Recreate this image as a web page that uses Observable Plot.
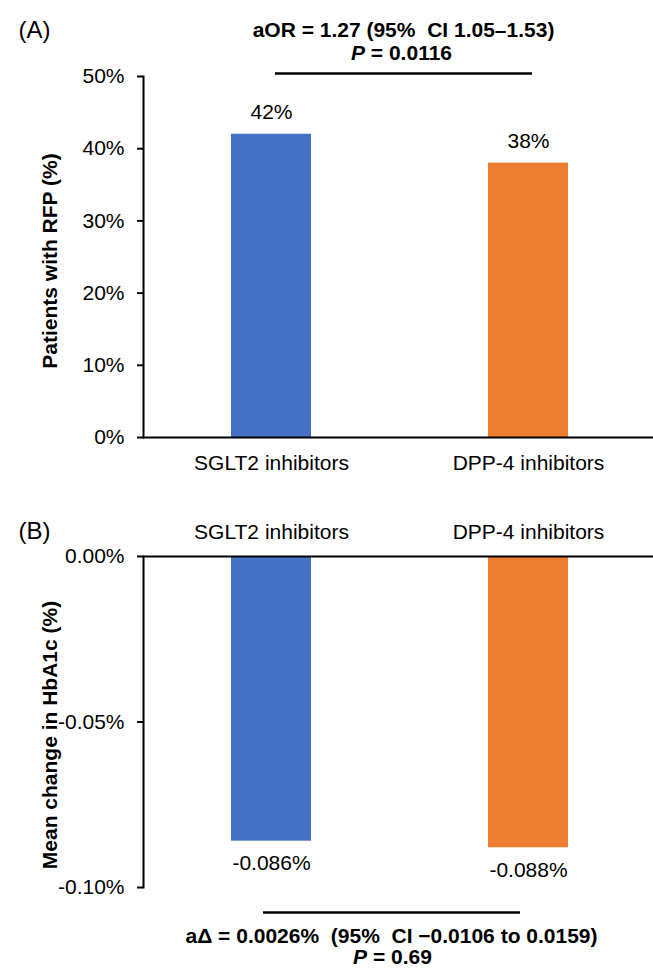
<!DOCTYPE html>
<html>
<head>
<meta charset="utf-8">
<script src="https://cdn.jsdelivr.net/npm/d3@7"></script>
<script src="https://cdn.jsdelivr.net/npm/@observablehq/plot@0.6"></script>
<style>
  body { margin: 0; background: #fff; }
  #chart { width: 653px; height: 969px; position: relative; }
  #chart svg { display: block; }
  #chart svg text { white-space: pre; }
</style>
</head>
<body>
<div id="chart"></div>
<script>
// ---- data ----
const categories = ["SGLT2 inhibitors", "DPP-4 inhibitors"];
const barColors = ["#4472C4", "#ED7D31"];
const rfpPercent = [42, 38];
const hba1cChange = [-0.086, -0.088];
const ticksA = [0, 10, 20, 30, 40, 50];
const ticksB = [0, -0.05, -0.10];
const panelLabels = ["(A)", "(B)"];
const yTitleA = "Patients with RFP (%)";
const yTitleB = "Mean change in HbA1c (%)";
const annotA = ["aOR = 1.27 (95%  CI 1.05\u20131.53)", "P = 0.0116"];
const annotB = ["a\u0394 = 0.0026%  (95%  CI \u22120.0106 to 0.0159)", "P = 0.69"];

const dataA = categories.map((c, i) => ({cat: c, value: rfpPercent[i]}));
const dataB = categories.map((c, i) => ({cat: c, value: hba1cChange[i]}));

const font = "'Liberation Sans', Arial, Helvetica, sans-serif";
const xScale = {domain: categories, paddingInner: 0.689, paddingOuter: 0.336, align: 0.51, label: null};
const colorScale = {domain: categories, range: barColors};

const plotA = Plot.plot({
  width: 653, height: 490,
  marginLeft: 143, marginRight: 0, marginTop: 76, marginBottom: 53,
  style: {fontFamily: font, fontSize: "21px", color: "#000", background: "#fff"},
  x: xScale,
  y: {domain: [0, 50], label: null},
  color: colorScale,
  marks: [
    Plot.barY(dataA, {x: "cat", y: "value", fill: "cat"}),
    Plot.axisY({ticks: ticksA, tickFormat: d => d + "%", tickSize: 6, tickPadding: 13, strokeWidth: 2, fontSize: 21}),
    Plot.axisX({tickSize: 0, tickPadding: 18, fontSize: 21}),
    Plot.ruleY([0], {strokeWidth: 2}),
    Plot.frame({anchor: "left", strokeWidth: 2}),
    Plot.text(dataA, {x: "cat", y: "value", text: d => d.value + "%", dy: -22, fontSize: 21}),
    Plot.ruleY([50], {dy: -3, insetLeft: 132, insetRight: 121, strokeWidth: 2.5}),
    Plot.text([annotA[0]], {frameAnchor: "top", lineAnchor: "middle", textAnchor: "middle", dy: -46, dx: 5, fontWeight: "bold", fontSize: 21}),
    Plot.text([annotA[1]], {frameAnchor: "top", lineAnchor: "middle", textAnchor: "middle", dy: -23, dx: 3, fontWeight: "bold", fontSize: 21}),
    Plot.text([panelLabels[0]], {frameAnchor: "top-left", lineAnchor: "middle", textAnchor: "start", dx: -125, dy: -46, fontSize: 24}),
    Plot.text([yTitleA], {frameAnchor: "left", lineAnchor: "middle", textAnchor: "middle", rotate: -90, dx: -93, dy: 4, fontWeight: "bold", fontSize: 21})
  ]
});

const plotB = Plot.plot({
  width: 653, height: 479,
  marginLeft: 143, marginRight: 0, marginTop: 66, marginBottom: 82,
  style: {fontFamily: font, fontSize: "21px", color: "#000", background: "#fff"},
  x: xScale,
  y: {domain: [-0.10, 0], label: null},
  color: colorScale,
  marks: [
    Plot.barY(dataB, {x: "cat", y: "value", fill: "cat"}),
    Plot.axisY({ticks: ticksB, tickFormat: d => d.toFixed(2) + "%", tickSize: 6, tickPadding: 13, strokeWidth: 2, fontSize: 21}),
    Plot.axisX({anchor: "top", tickSize: 0, tickPadding: 18, fontSize: 21}),
    Plot.ruleY([0], {strokeWidth: 2}),
    Plot.frame({anchor: "left", strokeWidth: 2}),
    Plot.text(dataB, {x: "cat", y: "value", text: d => d.value.toFixed(3) + "%", dy: 22, fontSize: 21}),
    Plot.ruleY([-0.10], {dy: 25, insetLeft: 120, insetRight: 133, strokeWidth: 2.5}),
    Plot.text([annotB[0]], {frameAnchor: "bottom", lineAnchor: "middle", textAnchor: "middle", dy: 49, dx: -7, fontWeight: "bold", fontSize: 21}),
    Plot.text([annotB[1]], {frameAnchor: "bottom", lineAnchor: "middle", textAnchor: "middle", dy: 70, dx: -6, fontWeight: "bold", fontSize: 21}),
    Plot.text([panelLabels[1]], {frameAnchor: "top-left", lineAnchor: "middle", textAnchor: "start", dx: -125, dy: -25, fontSize: 24}),
    Plot.text([yTitleB], {frameAnchor: "left", lineAnchor: "middle", textAnchor: "middle", rotate: -90, dx: -93, dy: 13, fontWeight: "bold", fontSize: 21})
  ]
});

const chart = document.getElementById("chart");
chart.appendChild(plotA);
chart.appendChild(plotB);

// italic "P" in the significance lines
d3.selectAll("#chart svg text").each(function () {
  const t = this.textContent;
  if (/^P = /.test(t) && this.children.length === 0) {
    const rest = t.slice(1);
    const sel = d3.select(this);
    sel.text(null);
    sel.append("tspan").attr("font-style", "italic").text("P");
    sel.append("tspan").text(rest);
  }
});
</script>
</body>
</html>
